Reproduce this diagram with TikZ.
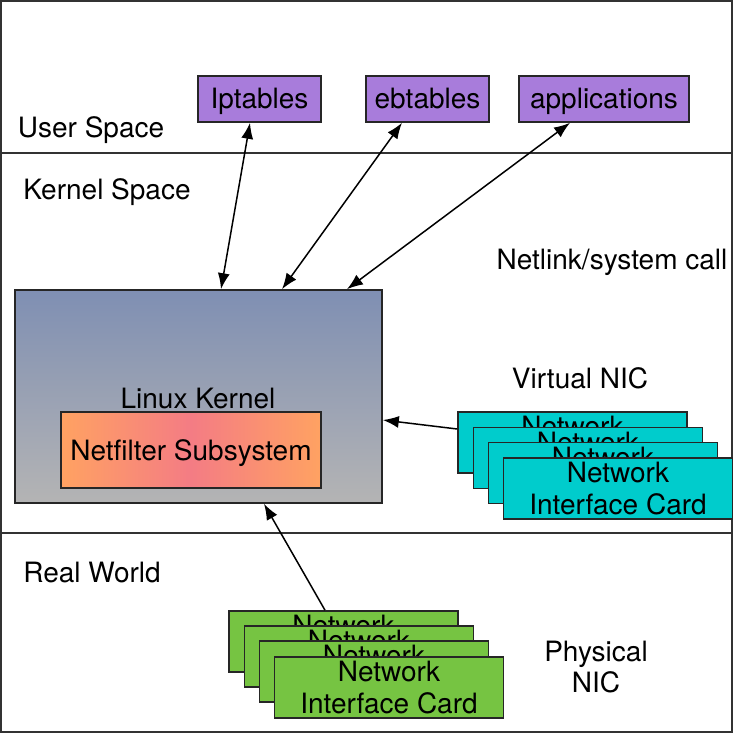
\documentclass[tikz,border=0pt]{standalone}
\usepackage{fontspec}
\setmainfont{TeX Gyre Heros}
\usetikzlibrary{calc,arrows.meta}
\definecolor{purp}{RGB}{168,124,219}
\definecolor{cyanbox}{RGB}{0,204,204}
\definecolor{greenbox}{RGB}{118,196,66}
\definecolor{kertop}{RGB}{127,143,179}
\definecolor{kerbot}{RGB}{180,180,180}
\definecolor{nforange}{RGB}{255,162,98}
\definecolor{nfpink}{RGB}{244,124,132}
\definecolor{linegray}{RGB}{50,50,50}
\begin{document}
\begin{tikzpicture}[x=1pt,y=-1pt,
  font=\fontsize{28}{31.5}\selectfont,
  capc/.style={text height=20pt,text depth=0pt},
  box/.style={draw=black!85,line width=1.6pt,inner sep=0pt,align=center},
  pbox/.style={box,capc,fill=purp,minimum width=123pt,minimum height=46pt},
  nicbox/.style={box,minimum width=229pt,minimum height=61pt},
  lbl/.style={inner sep=0pt,align=center},
  conn/.style={line width=1.5pt,draw=black},
  tip/.style={-{Latex[length=16pt,width=12pt]}},
  dbl/.style={{Latex[length=16pt,width=12pt]}-{Latex[length=16pt,width=12pt]}}
]
\useasboundingbox (0,0) rectangle (733,733);
\draw[linegray,line width=2pt] (1,1) rectangle (732,732);
\coordinate (l1a) at (0,153);
\coordinate (l1b) at (733,153);
\coordinate (l2a) at (0,533);
\coordinate (l2b) at (733,533);
\draw[linegray,line width=1.6pt] (l1a) -- (l1b);
\draw[linegray,line width=1.6pt] (l2a) -- (l2b);

% labels
\node[lbl,capc] (us) at (91,128) {User Space};
\node[lbl,capc] (ks) at (107,189) {Kernel Space};
\node[lbl,capc] (nl) at (612,259) {Netlink/system call};
\node[lbl,capc] (vn) at (580,378) {Virtual NIC};
\node[lbl,capc] (rw) at (92,572) {Real World};
\node[lbl] (pn) at (596,667) {Physical\\NIC};

% user space boxes
\node[pbox] (ipt) at (259.5,99) {Iptables};
\node[pbox] (ebt) at (427.5,99) {ebtables};
\node[pbox,minimum width=170pt] (app) at (604,99) {applications};

% kernel
\node[box,top color=kertop,bottom color=kerbot,minimum width=367pt,minimum height=213pt] (lk) at (198.5,396.5) {};
\node[lbl,capc] (lkt) at (198,398) {Linux Kernel};
\node[box,capc,left color=nforange,right color=nforange,middle color=nfpink,minimum width=260pt,minimum height=76pt] (nf) at (191,450) {Netfilter Subsystem};

% virtual NICs
\node[nicbox,fill=cyanbox] (v1) at (572.5,442.5) {Network\\Interface Card};
\node[nicbox,fill=cyanbox] (v2) at (588,458) {Network\\Interface Card};
\node[nicbox,fill=cyanbox] (v3) at (603,473) {Network\\Interface Card};
\node[nicbox,fill=cyanbox] (v4) at (618,488.5) {Network\\Interface Card};

% physical NICs
\node[nicbox,fill=greenbox] (p1) at (343.5,641.5) {Network\\Interface Card};
\node[nicbox,fill=greenbox] (p2) at (359,656.5) {Network\\Interface Card};
\node[nicbox,fill=greenbox] (p3) at (374,671.5) {Network\\Interface Card};
\node[nicbox,fill=greenbox] (p4) at (389,687.5) {Network\\Interface Card};

% connectors
\draw[conn,dbl] ($(ipt.south)+(-9.5,0)$) -- ($(lk.north)+(22.5,0)$);
\draw[conn,dbl] ($(ebt.south)+(-25.5,0)$) -- ($(lk.north)+(83.5,0)$);
\draw[conn,dbl] ($(app.south)+(-34,0)$) -- ($(lk.north)+(148.5,0)$);
\draw[conn,tip] ($(v1.west)+(0,-13.5)$) -- ($(lk.east)+(0,23.5)$);
\draw[conn,tip] ($(p1.north)+(-18.5,0)$) -- ($(lk.south)+(65.5,0)$);
\end{tikzpicture}
\end{document}
